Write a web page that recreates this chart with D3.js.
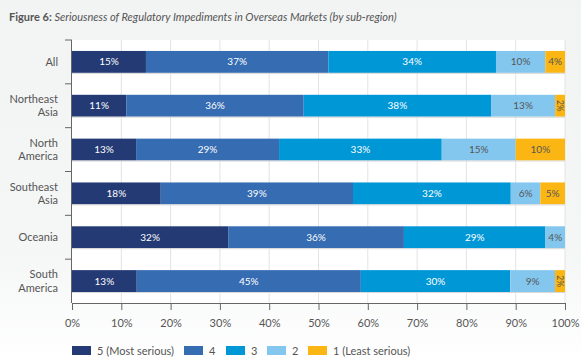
<!DOCTYPE html>
<html>
<head>
<meta charset="utf-8">
<script src="https://cdn.jsdelivr.net/npm/d3@7"></script>
<style>
  body { margin: 0; background: #fff; }
  svg { display: block; font-family: Lato, "Open Sans", sans-serif; }
</style>
</head>
<body>
<div id="chart"></div>
<script>
// regions, top to bottom
const regions = ["All", "Northeast Asia", "North America", "Southeast Asia", "Oceania", "South America"];
const regionLines = [["All"], ["Northeast", "Asia"], ["North", "America"], ["Southeast", "Asia"], ["Oceania"], ["South", "America"]];

// share of answers per seriousness level (5 .. 1)
const level5 = [15, 11, 13, 18, 32, 13];
const level4 = [37, 36, 29, 39, 36, 45];
const level3 = [34, 38, 33, 32, 29, 30];
const level2 = [10, 13, 15, 6, 4, 9];
const level1 = [4, 2, 10, 5, 0, 2];

const levelKeys = ["l5", "l4", "l3", "l2", "l1"];
const levelNames = ["5 (Most serious)", "4", "3", "2", "1 (Least serious)"];
const colors = ["#233a74", "#356cb2", "#0097d6", "#84c7ee", "#fbb614"];
const textColors = ["#fff", "#fff", "#fff", "#555", "#555"];
const xTicks = [0, 10, 20, 30, 40, 50, 60, 70, 80, 90, 100];

const W = 581, H = 361;
const margin = {top: 40, right: 16, bottom: 58, left: 72};

const rows = regions.map((r, i) => ({
    region: r, lines: regionLines[i],
    l5: level5[i], l4: level4[i], l3: level3[i], l2: level2[i], l1: level1[i]
}));

const svg = d3.select("#chart").append("svg")
    .attr("width", W)
    .attr("height", H);

const defs = svg.append("defs");
const grad = defs.append("linearGradient").attr("id", "bg")
    .attr("x1", 0).attr("y1", 0).attr("x2", 0).attr("y2", 1);
grad.append("stop").attr("offset", "0%").attr("stop-color", "#f2f3f3");
grad.append("stop").attr("offset", "70%").attr("stop-color", "#f5f6f6");
grad.append("stop").attr("offset", "100%").attr("stop-color", "#ffffff");
svg.append("rect").attr("width", W).attr("height", H).attr("fill", "url(#bg)");

const x = d3.scaleLinear().domain([0, 100]).range([margin.left, W - margin.right]);
const y = d3.scaleBand().domain(regions).range([margin.top, H - margin.bottom]).paddingInner(0.5).paddingOuter(0.25);

// white plot area
svg.append("rect")
    .attr("x", x(0)).attr("y", margin.top)
    .attr("width", x(100) - x(0)).attr("height", H - margin.bottom - margin.top)
    .attr("fill", "#fff");

// title
const title = svg.append("text").attr("x", 9).attr("y", 21).attr("font-size", 11).attr("fill", "#555");
title.append("tspan").attr("font-weight", "bold").text("Figure 6: ");
title.append("tspan").attr("font-style", "italic").text("Seriousness of Regulatory Impediments in Overseas Markets (by sub-region)");

// gridlines
svg.append("g").selectAll("line")
    .data(xTicks.slice(1))
    .join("line")
    .attr("x1", d => x(d)).attr("x2", d => x(d))
    .attr("y1", margin.top).attr("y2", H - margin.bottom)
    .attr("stroke", "#e3e3e3");

// stacked bars, normalised so each row fills 0..100
const stack = d3.stack().keys(levelKeys)
    .offset(d3.stackOffsetExpand);
const series = stack(rows);

const bh = y.bandwidth();
series.forEach((s, k) => {
    const g = svg.append("g");
    g.selectAll("rect")
        .data(s)
        .join("rect")
        .attr("x", d => x(d[0] * 100))
        .attr("y", d => y(d.data.region))
        .attr("width", d => Math.max(0, x(d[1] * 100) - x(d[0] * 100)))
        .attr("height", bh)
        .attr("fill", colors[k]);

    g.selectAll("text")
        .data(s.filter(d => d.data[levelKeys[k]] > 0))
        .join("text")
        .attr("transform", d => {
            const cx = (x(d[0] * 100) + x(d[1] * 100)) / 2;
            const cy = y(d.data.region) + bh / 2;
            return d.data[levelKeys[k]] <= 2
                ? `translate(${cx},${cy}) rotate(90)`
                : `translate(${cx},${cy})`;
        })
        .attr("text-anchor", "middle")
        .attr("dy", "0.35em")
        .attr("font-size", d => d.data[levelKeys[k]] <= 2 ? 8.5 : 10)
        .attr("fill", textColors[k])
        .text(d => d.data[levelKeys[k]] + "%");
});

// bar shadow line underneath
svg.append("g").selectAll("line")
    .data(regions)
    .join("line")
    .attr("x1", x(0)).attr("x2", x(100))
    .attr("y1", d => y(d) + bh + 0.5).attr("y2", d => y(d) + bh + 0.5)
    .attr("stroke", "#d8d8d8");

// y axis with ticks between bands
const yAxis = svg.append("g");
yAxis.append("line")
    .attr("x1", x(0) - 0.5).attr("x2", x(0) - 0.5)
    .attr("y1", margin.top).attr("y2", H - margin.bottom)
    .attr("stroke", "#666");
const step = y.step();
yAxis.selectAll("line.tick")
    .data(d3.range(regions.length))
    .join("line")
    .attr("class", "tick")
    .attr("x1", x(0) - 7).attr("x2", x(0))
    .attr("y1", i => margin.top + i * (H - margin.bottom - margin.top) / regions.length)
    .attr("y2", i => margin.top + i * (H - margin.bottom - margin.top) / regions.length)
    .attr("stroke", "#666");

yAxis.selectAll("text")
    .data(rows)
    .join("text")
    .attr("text-anchor", "end")
    .attr("font-size", 11)
    .attr("fill", "#555")
    .each(function (d) {
        const t = d3.select(this);
        const cy = y(d.region) + bh / 2;
        const n = d.lines.length;
        d.lines.forEach((ln, j) => {
            t.append("tspan")
                .attr("x", 58)
                .attr("y", cy + (j - (n - 1) / 2) * 13.5)
                .attr("dy", "0.35em")
                .text(ln);
        });
    });

// x axis
const xAxis = svg.append("g")
    .attr("transform", `translate(0,${H - margin.bottom})`)
    .call(d3.axisBottom(x).tickValues(xTicks).tickSize(7).tickPadding(9).tickFormat(d => d + "%"));
xAxis.select(".domain").attr("stroke", "#666");
xAxis.selectAll(".tick line").attr("stroke", "#666");
xAxis.selectAll(".tick text").attr("font-size", 11).attr("fill", "#555").attr("font-family", "Lato, sans-serif");

// legend
const legendX = [72, 184, 226, 267, 308];
const legend = svg.append("g");
levelNames.forEach((name, k) => {
    legend.append("rect")
        .attr("x", legendX[k]).attr("y", 346)
        .attr("width", 19).attr("height", 9)
        .attr("fill", colors[k]);
    legend.append("text")
        .attr("x", legendX[k] + 25).attr("y", 351)
        .attr("dy", "0.35em")
        .attr("font-size", 11)
        .attr("fill", "#555")
        .text(name);
});
</script>
</body>
</html>
